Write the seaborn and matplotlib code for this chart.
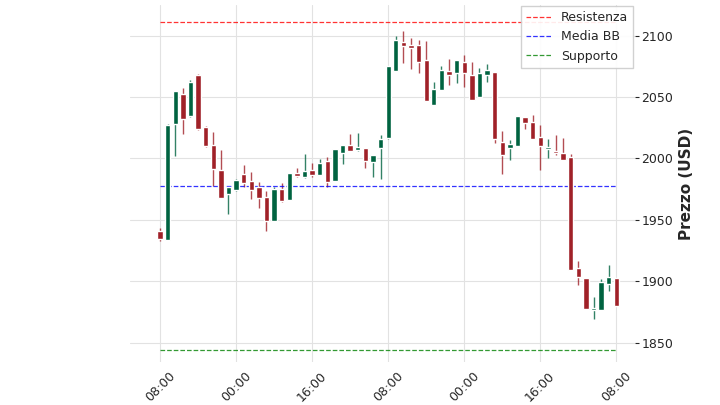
"""Candlestick con livelli di supporto / resistenza"""
import numpy as np
import matplotlib
matplotlib.use("Agg")
import matplotlib.pyplot as plt
import seaborn as sns

opens = [1940.4, 1933.7, 2028.0, 2052.1, 2034.5, 2067.9, 2025.1, 2010.7, 1990.4, 1971.6,
         1974.9, 1987.1, 1981.3, 1976.0, 1968.4, 1949.2, 1975.1, 1966.3, 1987.4, 1985.3,
         1990.6, 1987.1, 1997.3, 1981.8, 2004.5, 2010.2, 2006.9, 2008.5, 1997.3, 2008.5,
         2017.1, 2071.4, 2094.1, 2092.0, 2092.0, 2079.4, 2043.8, 2056.1, 2070.9, 2069.5,
         2078.1, 2067.9, 2050.5, 2068.2, 2070.0, 2013.1, 2009.0, 2010.5, 2033.4, 2029.1,
         2017.4, 2008.0, 2005.9, 2003.7, 2000.5, 1910.1, 1902.1, 1876.7, 1877.0, 1898.1,
         1902.1]
closes = [1935.0, 2026.7, 2054.8, 2032.6, 2062.0, 2024.6, 2010.7, 1992.0, 1968.4, 1976.5,
          1982.3, 1979.9, 1974.3, 1968.4, 1949.7, 1974.6, 1965.8, 1987.7, 1985.8, 1989.6,
          1987.1, 1995.7, 1980.7, 2007.5, 2010.2, 2006.4, 2008.8, 1997.9, 2002.7, 2015.2,
          2074.9, 2096.0, 2091.4, 2089.8, 2078.6, 2047.3, 2055.9, 2071.4, 2068.2, 2080.2,
          2069.5, 2047.9, 2069.5, 2071.4, 2016.0, 2003.2, 2011.0, 2034.5, 2029.1, 2016.0,
          2010.4, 2008.8, 2004.5, 1999.2, 1909.1, 1903.5, 1877.5, 1878.0, 1899.1, 1902.9,
          1880.2]
highs = [1943.0, 2027.8, 2055.0, 2057.2, 2064.2, 2068.4, 2026.0, 2021.4, 2007.2, 1976.5,
         1982.9, 1994.6, 1989.3, 1980.7, 1973.8, 1977.0, 1980.0, 1987.7, 1992.0, 2003.7,
         1996.0, 1999.5, 2001.0, 2007.5, 2010.2, 2019.8, 2020.3, 2008.5, 2002.7, 2018.7,
         2075.4, 2100.0, 2103.5, 2097.9, 2096.3, 2095.5, 2062.0, 2075.4, 2081.3, 2080.2,
         2084.0, 2078.6, 2073.5, 2076.7, 2070.0, 2022.0, 2015.2, 2034.5, 2033.4, 2035.3,
         2027.3, 2015.5, 2018.7, 2016.6, 2003.7, 1916.8, 1902.1, 1886.9, 1901.6, 1912.8,
         1902.1]
lows = [1933.0, 1933.7, 2001.9, 2019.8, 2033.7, 2023.3, 2009.1, 1977.8, 1968.4, 1954.3,
        1973.8, 1976.5, 1967.0, 1959.9, 1940.9, 1949.2, 1964.2, 1966.3, 1985.0, 1984.0,
        1984.5, 1986.6, 1976.5, 1981.8, 1995.2, 2006.4, 2006.4, 1992.0, 1985.0, 1983.2,
        2016.0, 2071.4, 2077.5, 2072.7, 2069.5, 2046.5, 2043.8, 2056.1, 2059.4, 2061.5,
        2058.0, 2047.9, 2050.5, 2062.0, 2012.6, 1987.0, 1999.0, 2010.5, 2023.8, 2016.0,
        1990.4, 2000.5, 2002.4, 1999.2, 1909.1, 1896.8, 1877.5, 1869.0, 1877.0, 1892.3,
        1880.2]

resistenza = 2111.3
media_bb = 1977.8
supporto = 1844.3

tick_pos = [0, 10, 20, 30, 40, 50, 60]
tick_labels = ["08:00", "00:00", "16:00", "08:00", "00:00", "16:00", "08:00"]

UP = "#006340"
DOWN = "#A02128"

sns.set_style("whitegrid", {"grid.linestyle": "-", "grid.color": "#e2e2e2"})

fig = plt.figure(figsize=(7.2, 4.05), dpi=100)
ax = fig.add_axes([0.18, 0.105, 0.7014, 0.883])

o = np.array(opens)
c = np.array(closes)
x = np.arange(len(o))
colors = np.where(c >= o, UP, DOWN)

ax.vlines(x, lows, highs, colors=colors, linewidth=1, alpha=0.8, zorder=2)
ax.bar(x, np.abs(c - o) + 0.6, bottom=np.minimum(o, c) - 0.3, width=0.7,
       color=colors, zorder=3)

ax.hlines(resistenza, 0, len(x) - 1, color="red", linestyle="--", linewidth=0.9, alpha=0.8, label="Resistenza")
ax.hlines(media_bb, 0, len(x) - 1, color="blue", linestyle="--", linewidth=0.9, alpha=0.8, label="Media BB")
ax.hlines(supporto, 0, len(x) - 1, color="green", linestyle="--", linewidth=0.9, alpha=0.8, label="Supporto")

ax.set_xlim(-4, 62.4)
ax.set_ylim(1833.8, 2125)
ax.set_xticks(tick_pos)
ax.set_xticklabels(tick_labels, rotation=45)
ax.yaxis.tick_right()
ax.yaxis.set_label_position("right")
ax.set_ylabel("Prezzo (USD)", fontsize=11, fontweight="bold")
ax.tick_params(labelsize=9, length=3, pad=2)
for s in ax.spines.values():
    s.set_visible(False)

ax.legend(loc="upper right", fontsize=9, framealpha=0.9, borderaxespad=0.1, fancybox=False)

fig.savefig("out.png", dpi=100)
plt.close(fig)
